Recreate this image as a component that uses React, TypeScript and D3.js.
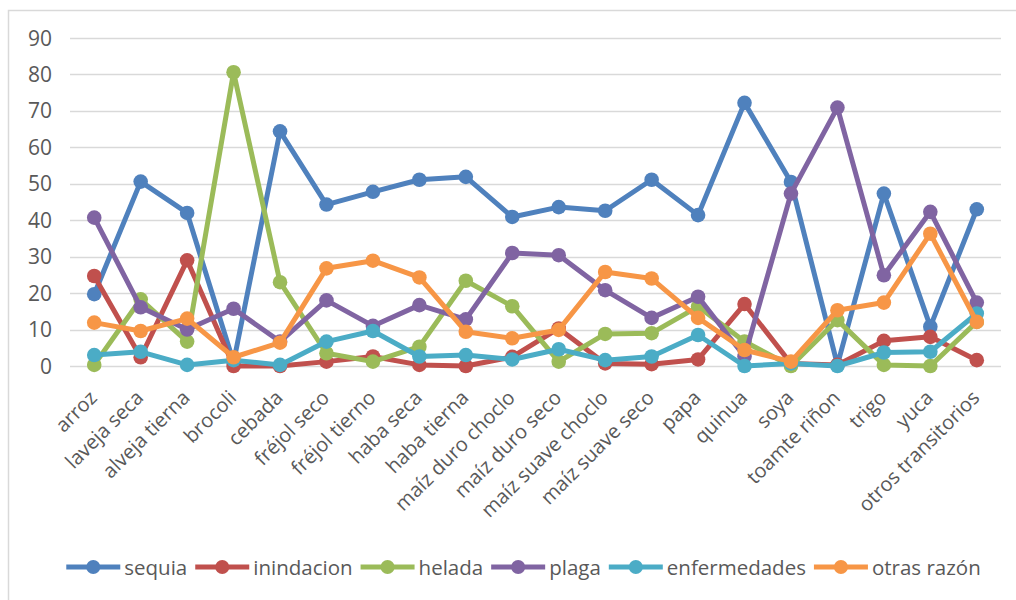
import React, { useEffect, useRef } from "react";
import * as d3 from "d3";

const categories = ["arroz", "laveja seca", "alveja tierna", "brocoli", "cebada", "fréjol seco", "fréjol tierno", "haba seca", "haba tierna", "maíz duro choclo", "maíz duro seco", "maíz suave choclo", "maíz suave seco", "papa", "quinua", "soya", "toamte riñon", "trigo", "yuca", "otros transitorios"];

const sequia = [19.7, 50.6, 42, 1, 64.4, 44.3, 47.8, 51.1, 51.9, 40.9, 43.6, 42.6, 51.1, 41.4, 72.2, 50.5, 0.3, 47.3, 10.8, 43];
const inindacion = [24.7, 2.4, 29, 0, 0, 1.2, 2.6, 0.3, 0, 2.5, 10.3, 0.7, 0.5, 1.8, 17, 0.7, 0.3, 6.9, 8, 1.6];
const helada = [0.3, 18.3, 6.7, 80.6, 23, 3.5, 1.2, 5.3, 23.4, 16.4, 1.2, 8.8, 9, 16.3, 6.7, 0, 12.6, 0.3, 0, 12.1];
const plaga = [40.7, 16.1, 10, 15.7, 6.7, 18, 11, 16.7, 12.8, 31, 30.4, 20.8, 13.2, 19, 2.6, 47.3, 70.9, 24.9, 42.3, 17.4];
const enfermedades = [3, 3.9, 0.3, 1.6, 0.3, 6.7, 9.6, 2.6, 3, 1.8, 4.6, 1.6, 2.6, 8.5, 0, 0.7, 0, 3.7, 3.9, 14.4];
const otrasRazon = [11.9, 9.6, 13, 2.4, 6.4, 26.8, 28.9, 24.3, 9.4, 7.6, 9.9, 25.8, 24, 13.2, 4.4, 1.2, 15.3, 17.4, 36.3, 12.1];

const seriesNames = ["sequia", "inindacion", "helada", "plaga", "enfermedades", "otras razón"];
const seriesValues = [sequia, inindacion, helada, plaga, enfermedades, otrasRazon];
const seriesColors = ["#4F81BD", "#C0504D", "#9BBB59", "#8064A2", "#4BACC6", "#F79646"];
const yTicks = [0, 10, 20, 30, 40, 50, 60, 70, 80, 90];

export default function App() {
  const ref = useRef<SVGSVGElement>(null);

  useEffect(() => {
    const svg = d3.select(ref.current);
    svg.selectAll("*").remove();

    const x = d3.scaleBand<string>().domain(categories).range([71, 1000]);
    const y = d3.scaleLinear().domain([0, 90]).range([366, 38]);
    const cx = (c: string) => (x(c) as number) + x.bandwidth() / 2;

    // frame
    svg.append("rect").attr("x", 8.5).attr("y", 10.5).attr("width", 1100).attr("height", 800)
      .attr("fill", "white").attr("stroke", "#d9d9d9").attr("stroke-width", 1.5);

    // grid
    svg.append("g").selectAll("line").data(yTicks).join("line")
      .attr("x1", 70).attr("x2", 1001)
      .attr("y1", (d) => Math.round(y(d)) + 0.5).attr("y2", (d) => Math.round(y(d)) + 0.5)
      .attr("stroke", "#d9d9d9").attr("stroke-width", 1.3);

    // y labels
    svg.append("g").selectAll("text").data(yTicks).join("text")
      .attr("x", 52).attr("y", (d) => y(d)).attr("dy", "0.36em")
      .attr("text-anchor", "end").attr("fill", "#595959")
      .style("font-family", "'Open Sans', sans-serif").style("font-size", "21px")
      .text((d) => String(d));

    // x labels
    svg.append("g").selectAll("text").data(categories).join("text")
      .attr("transform", (d) => `translate(${cx(d) + 4},${399}) rotate(-45)`)
      .attr("text-anchor", "end").attr("fill", "#595959")
      .style("font-family", "'Open Sans', sans-serif").style("font-size", "20px")
      .text((d) => d);

    // series
    const line = d3.line<number>().x((_, i) => cx(categories[i])).y((d) => y(d));
    seriesValues.forEach((vals, si) => {
      const g = svg.append("g");
      g.append("path").attr("d", line(vals) as string).attr("fill", "none")
        .attr("stroke", seriesColors[si]).attr("stroke-width", 5).attr("stroke-linejoin", "round");
      g.selectAll("circle").data(vals).join("circle")
        .attr("cx", (_, i) => cx(categories[i])).attr("cy", (d) => y(d)).attr("r", 7.3)
        .attr("fill", seriesColors[si]);
    });

    // legend
    const lg = svg.append("g");
    let pos = 0;
    seriesNames.forEach((name, si) => {
      const item = lg.append("g").attr("transform", `translate(${pos},0)`);
      item.append("line").attr("x1", 0).attr("x2", 54).attr("y1", 567).attr("y2", 567)
        .attr("stroke", seriesColors[si]).attr("stroke-width", 5);
      item.append("circle").attr("cx", 27).attr("cy", 567).attr("r", 7).attr("fill", seriesColors[si]);
      const t = item.append("text").attr("x", 58).attr("y", 574.5).attr("fill", "#595959")
        .style("font-family", "'Open Sans', sans-serif").style("font-size", "20.5px").text(name);
      const w = (t.node() as SVGTextElement).getComputedTextLength();
      pos += 58 + w + (si < seriesNames.length - 1 ? 8 : 0);
    });
    lg.attr("transform", `translate(${523.5 - pos / 2},0)`);
  }, []);

  return (
    <svg ref={ref} width={1016} height={600}
      style={{ position: "absolute", left: 0, top: 0, background: "white" }} />
  );
}
